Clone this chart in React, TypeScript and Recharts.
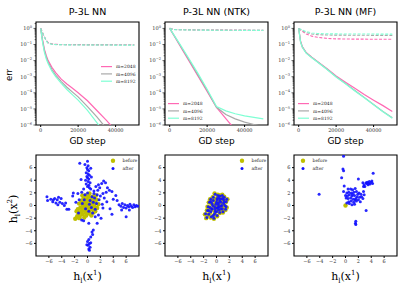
import React from "react";
import {
  LineChart,
  Line,
  ScatterChart,
  Scatter,
  XAxis,
  YAxis,
  ReferenceArea,
  Legend,
} from "recharts";

// hidden widths m and their colours
const widths = ["2048", "4096", "8192"];
const lineColors = ["#ff69b4", "#a9a9a9", "#7fffd4"];

// P-3L NN
const nnSteps = [0, 1000, 2000, 3000, 4000, 6000, 8000, 11000, 14000, 17000, 20000, 25000, 30000, 35000, 40000, 45000, 50000];
const nnTrain2048 = [1, 0.2, 0.05, 0.02, 0.01, 3.8e-3, 1.8e-3, 7e-4, 3.5e-4, 1.9e-4, 1e-4, 3.2e-5, 8e-6, 2e-6, 4.5e-7, null, null];
const nnTrain4096 = [1, 0.16, 0.04, 0.016, 8e-3, 2.8e-3, 1.25e-3, 5e-4, 2.2e-4, 1.1e-4, 5.6e-5, 1.4e-5, 3.2e-6, 6.3e-7, null, null, null];
const nnTrain8192 = [1, 0.14, 0.032, 0.0126, 6.3e-3, 2.2e-3, 1e-3, 3.8e-4, 1.6e-4, 7.5e-5, 3.5e-5, 8e-6, 1.4e-6, 2.5e-7, null, null, null];
const nnTest2048 = [1, 0.55, 0.3, 0.18, 0.13, 0.108, 0.102, 0.1, 0.099, 0.098, 0.098, 0.097, 0.097, 0.096, 0.096, 0.096, 0.096];
const nnTest4096 = [1, 0.54, 0.29, 0.17, 0.125, 0.105, 0.1, 0.098, 0.097, 0.096, 0.096, 0.095, 0.095, 0.095, 0.094, 0.094, 0.094];
const nnTest8192 = [1, 0.53, 0.28, 0.165, 0.12, 0.103, 0.098, 0.096, 0.095, 0.094, 0.094, 0.093, 0.093, 0.093, 0.092, 0.092, 0.092];

// P-3L NN (NTK)
const ntkSteps = [0, 2500, 5000, 10000, 15000, 20000, 25000, 30000, 35000, 40000, 45000, 50000];
const ntkTrain2048 = [1, 0.33, 0.105, 0.011, 1.15e-3, 1.2e-4, 1.26e-5, 2.5e-6, 5e-7, null, null, null];
const ntkTrain4096 = [1, 0.34, 0.115, 0.0126, 1.35e-3, 1.38e-4, 1.26e-5, 4.5e-6, 2.4e-6, 1.5e-6, 1.07e-6, 8e-7];
const ntkTrain8192 = [1, 0.355, 0.126, 0.015, 1.66e-3, 1.66e-4, 1.4e-5, 7.6e-6, 5e-6, 3.7e-6, 2.95e-6, 2.4e-6];
const ntkTest2048 = [1, 0.86, 0.84, 0.82, 0.81, 0.8, 0.79, 0.79, 0.78, 0.78, 0.77, 0.77];
const ntkTest4096 = [1, 0.85, 0.83, 0.81, 0.8, 0.79, 0.78, 0.78, 0.77, 0.77, 0.76, 0.76];
const ntkTest8192 = [1, 0.84, 0.82, 0.8, 0.79, 0.78, 0.77, 0.77, 0.76, 0.76, 0.75, 0.75];

// P-3L NN (MF)
const mfSteps = [0, 1000, 2000, 4000, 7000, 10000, 15000, 20000, 25000, 30000, 35000, 40000, 45000, 50000];
const mfTrain2048 = [1, 0.16, 0.071, 0.032, 0.016, 8.9e-3, 3.2e-3, 1.1e-3, 4.5e-4, 1.9e-4, 7.9e-5, 3.5e-5, 1.6e-5, 7e-6];
const mfTrain4096 = [1, 0.15, 0.068, 0.03, 0.0155, 8.5e-3, 3e-3, 1e-3, 3.8e-4, 1.4e-4, 5.2e-5, 1.9e-5, 7e-6, 2.8e-6];
const mfTrain8192 = [1, 0.14, 0.065, 0.029, 0.015, 8.3e-3, 2.9e-3, 9.5e-4, 3.6e-4, 1.3e-4, 4.9e-5, 1.8e-5, 6.6e-6, 2.6e-6];
const mfTest2048 = [1, 0.8, 0.65, 0.45, 0.33, 0.28, 0.24, 0.225, 0.22, 0.215, 0.215, 0.21, 0.21, 0.21];
const mfTest4096 = [1, 0.85, 0.72, 0.55, 0.45, 0.41, 0.39, 0.38, 0.38, 0.375, 0.375, 0.37, 0.37, 0.37];
const mfTest8192 = [1, 0.9, 0.8, 0.63, 0.52, 0.48, 0.46, 0.455, 0.45, 0.45, 0.445, 0.445, 0.44, 0.44];

const stepTicks = [0, 20000, 40000];
const logMajor = [1e-6, 1e-5, 1e-4, 1e-3, 1e-2, 1e-1, 1];
const hTicks = [-6, -4, -2, 0, 2, 4, 6];

// feature scatter (h_l(x^1), h_l(x^2)) before / after training
const nnBefore = [
  [-1.9, -2.1], [-1.6, -1.7], [-1.4, -1.3], [-1.2, -1.8], [-1.0, -1.0], [-0.9, -0.4], [-0.8, -1.4], [-0.7, 0.2],
  [-0.6, -0.8], [-0.5, -0.2], [-0.4, 0.6], [-0.3, -1.1], [-0.2, 0.1], [-0.1, -0.5], [0.0, 0.4], [0.1, -0.2],
  [0.2, 0.8], [0.3, -0.7], [0.4, 0.3], [0.5, -0.1], [0.6, 1.0], [0.7, 0.2], [0.8, -0.6], [0.9, 0.6],
  [1.0, 1.3], [1.1, -0.2], [1.2, 0.4], [1.4, 0.9], [1.5, -0.4], [1.7, 0.2], [-1.5, -0.6], [-1.3, 0.3],
  [-1.1, -0.3], [-0.9, 0.8], [-0.6, 1.2], [-0.3, 1.6], [-0.1, 1.0], [0.2, 1.4], [0.4, -1.3], [0.6, -1.6],
  [-0.2, -1.6], [-0.5, -1.9], [0.0, -1.2], [0.3, 1.9], [-0.8, 1.6], [1.3, 1.6], [0.9, -1.1], [-1.7, -0.9],
  [-1.0, 0.4], [-0.4, -0.6], [0.1, 0.6], [0.5, 0.5], [0.8, 1.4], [-0.7, -0.1], [1.2, -0.9], [-1.3, -2.0],
  [0.0, -0.8], [0.7, -0.3], [-0.2, 0.4], [0.3, 0.1],
];
const nnAfter = [
  [0.0, 7.0], [-1.2, 6.7], [0.1, 6.3], [-0.1, 6.0], [0.0, 5.7], [0.2, 5.5], [-0.2, 5.2], [0.1, 5.0],
  [0.3, 4.8], [-0.1, 4.6], [0.0, 4.4], [0.2, 4.2], [-0.3, 4.0], [0.1, 3.8], [0.4, 3.6], [-0.2, 3.4],
  [0.2, 3.2], [0.0, 3.0], [-1.0, 4.1], [0.6, 4.5], [0.5, 5.9], [-0.4, 6.5], [0.3, 2.8], [-0.6, 2.6],
  [0.9, -3.9], [0.7, -4.2], [0.8, -4.6], [0.5, -5.0], [0.2, -5.4], [0.0, -5.7], [0.3, -6.0], [0.1, -6.3],
  [0.4, -6.6], [0.2, -6.9], [0.3, -7.1], [0.5, -5.9], [-0.1, -6.2], [-0.6, -2.4], [0.2, -2.8],
  [-6.3, 1.4], [-6.2, 0.8], [-5.7, 1.0], [-5.4, 0.6], [-5.1, 1.1], [-4.9, 0.4], [-4.7, 0.9], [-4.5, 1.3],
  [-4.3, 0.5], [-4.1, 1.1], [-3.9, 0.3], [-3.6, 0.0], [-3.4, 0.4], [-3.2, -0.6], [-2.9, -0.6], [-4.6, 0.1],
  [-5.3, 0.9], [-2.2, 2.0], [-1.5, 1.9], [-2.3, 1.5],
  [4.6, 0.8], [4.9, 0.1], [5.2, -0.1], [5.4, 0.3], [5.6, -0.3], [5.8, 0.1], [6.0, -0.4], [6.2, 0.0],
  [6.4, -0.2], [6.6, 0.2], [6.8, -0.1], [7.0, -0.3], [7.2, 0.1], [7.4, -0.2], [7.6, 0.0], [7.8, -0.1],
  [6.0, -1.8], [5.3, -0.7], [6.5, -0.7], [4.4, 1.6], [3.8, -1.4],
  [0.5, 2.6], [1.0, 2.3], [1.3, 3.0], [1.6, 2.4], [1.9, 2.8], [2.2, 3.5], [2.5, 3.9], [2.8, 3.6],
  [3.1, 2.8], [3.4, 2.4], [3.8, 2.2], [2.4, 1.9], [2.0, 1.5], [1.5, 1.7], [1.1, 1.2], [0.7, 1.4],
  [0.4, 0.8], [0.9, 0.5], [1.4, 0.3], [1.8, 0.9], [2.6, 1.2], [3.0, 0.6], [-0.4, 1.7], [-0.9, 2.1],
  [-1.3, 0.9], [-0.8, 0.3], [-0.3, -0.5], [0.2, -0.9], [0.8, -1.2], [1.2, -0.6], [1.7, -1.5], [2.1, -2.0],
  [1.5, -2.8], [-0.9, -2.3], [-1.4, -1.2], [2.4, -0.4], [0.0, 2.0], [1.0, 1.9], [0.3, 0.2], [-0.5, 0.9],
  [2.9, 2.1], [1.7, 3.3], [0.6, -0.3], [-1.8, 0.5], [3.5, -0.5], [2.3, 0.2], [4.0, 1.0], [1.2, -1.8],
];
const ntkBefore = [
  [-1.6, -2.0], [-1.8, -1.4], [-1.5, -0.8], [-1.3, -1.5], [-1.1, -0.3], [-1.0, -1.1], [-0.8, 0.3], [-0.7, -0.6],
  [-0.6, -1.7], [-0.5, 0.9], [-0.4, -0.2], [-0.3, 1.9], [-0.2, -1.0], [-0.1, 0.5], [0.0, -0.4], [0.1, 1.2],
  [0.2, 0.0], [0.3, -0.8], [0.4, 0.7], [0.5, 1.6], [0.6, -0.2], [0.7, 0.4], [0.8, 1.1], [0.9, -0.6],
  [1.0, 0.2], [1.1, 0.9], [1.2, 1.4], [1.3, -0.1], [1.5, 0.6], [1.7, 1.0], [-1.2, 0.5], [-0.9, -1.9],
  [-0.3, -1.4], [0.0, 0.9], [0.2, 1.7], [0.5, -1.2], [0.9, 1.7], [1.4, -0.7], [-0.6, 1.3], [-1.4, -0.2],
  [0.3, 0.3], [-0.2, 0.2], [0.6, 0.9], [-0.8, -0.7], [1.0, -1.1], [-0.4, -2.1], [0.1, -1.7], [1.6, -0.3],
  [-1.0, 1.0], [0.4, -0.3],
];
const ntkAfter = [
  [-1.5, -1.9], [-1.7, -1.3], [-1.4, -0.8], [-1.2, -1.4], [-1.0, -0.3], [-0.9, -1.0], [-0.7, 0.3], [-0.7, -0.5],
  [-0.5, -1.6], [-0.5, 0.8], [-0.3, -0.2], [-0.2, 1.8], [-0.2, -0.9], [0.0, 0.5], [0.1, -0.4], [0.1, 1.1],
  [0.3, 0.1], [0.3, -0.7], [0.5, 0.7], [0.5, 1.5], [0.7, -0.1], [0.7, 0.5], [0.9, 1.1], [0.9, -0.5],
  [1.1, 0.3], [1.1, 0.9], [1.2, 1.3], [1.3, 0.0], [1.5, 0.6], [1.6, 1.0], [-1.1, 0.5], [-0.8, -1.8],
  [-0.3, -1.3], [0.1, 0.9], [0.2, 1.6], [0.5, -1.1], [0.9, 1.6], [1.4, -0.6], [-0.5, 1.3], [-1.3, -0.2],
  [0.3, 0.4], [-0.1, 0.2], [0.6, 1.0], [-0.7, -0.6], [1.0, -1.0], [-0.4, -2.0], [0.1, -1.6], [1.5, -0.2],
  [-0.9, 1.0], [0.4, -0.2], [-0.6, 0.0], [0.0, -1.0], [0.8, 0.0], [-1.2, -0.8], [0.4, 1.2], [-0.2, -0.5],
  [1.2, 0.6], [-0.9, 0.6], [0.2, -0.3], [0.6, -0.6],
];
const mfBefore = [[0, 0]];
const mfAfter = [
  [-0.3, 7.8], [-0.4, 5.8], [-0.3, 5.5], [-0.6, 4.4], [2.0, 4.2], [4.3, 5.1], [-4.1, 1.8], [-0.2, 3.1],
  [-0.3, 2.2], [3.2, -0.8], [1.6, -2.5], [1.55, -2.8], [1.6, -3.0],
  [2.7, 3.6], [2.9, 3.3], [3.0, 3.0], [3.2, 3.6], [3.4, 3.7], [3.6, 3.5], [3.8, 3.4], [4.0, 3.7],
  [4.1, 3.9], [3.3, 3.5], [3.7, 3.8], [4.2, 3.5], [3.5, 3.3], [2.8, 3.0],
  [0.4, 2.6], [0.8, 2.6], [1.1, 2.5], [1.5, 2.7], [0.2, 2.0], [0.5, 2.1], [0.9, 2.0], [1.3, 2.1],
  [1.7, 2.2], [2.1, 2.0], [2.4, 1.8], [0.0, 1.6], [0.3, 1.5], [0.6, 1.7], [1.0, 1.5], [1.4, 1.6],
  [1.8, 1.4], [2.2, 1.3], [0.4, 1.1], [0.8, 1.2], [1.2, 1.0], [1.6, 1.1], [2.0, 0.9], [2.5, 1.4],
  [0.5, 0.6], [0.9, 0.7], [1.3, 0.5], [1.7, 0.7], [2.3, 0.6], [0.6, 0.3], [0.2, 0.4], [1.0, 0.1],
  [1.5, 0.9], [2.7, 1.1], [1.9, 1.8], [0.1, 1.2], [1.1, 1.8], [2.8, 2.2], [1.4, 0.2], [2.9, 1.7],
];

const beforeColor = "#bfbf00";
const afterColor = "#1010ff";

// layout
const colLeft = [36, 165, 294];
const plotW = 103;
const topPlot = { top: 22, h: 103 };
const botPlot = { top: 155, h: 101 };
const yAxisW = 30;
const tickFont = '"DejaVu Serif", serif';

const logTicks: number[] = [];
logMajor.forEach((m) => {
  logTicks.push(m);
  if (m < 1) [2, 3, 4, 5, 6, 7, 8, 9].forEach((k) => logTicks.push(m * k));
});
logTicks.push(2);

function buildRows(steps: number[], train: any[][], test: any[][]) {
  return steps.map((s, i) => {
    const r: any = { step: s };
    widths.forEach((w, k) => {
      r["s" + w] = train[k][i];
      r["d" + w] = test[k][i];
    });
    return r;
  });
}

function LogTick(props: any) {
  const { x, y, payload } = props;
  const lg = Math.log10(payload.value);
  const e = Math.round(lg);
  const major = Math.abs(lg - e) < 1e-6;
  return (
    <g>
      <line x1={x} x2={x - (major ? 2.5 : 1.4)} y1={y} y2={y} stroke="#000" strokeWidth={0.6} />
      {major && (
        <text x={x - 4} y={y + 1.8} textAnchor="end" fontSize={5} fill="#333" fontFamily={tickFont}>
          10
          <tspan dy={-2.2} fontSize={3.6}>
            {e === 0 ? "0" : "\u2212" + -e}
          </tspan>
        </text>
      )}
    </g>
  );
}

const minusFmt = (v: number) => (v < 0 ? "\u2212" + -v : String(v));

function LineLegend() {
  return (
    <svg width={40} height={22}>
      {widths.map((w, k) => (
        <g key={w}>
          <line x1={0} x2={11} y1={3.6 + k * 7.3} y2={3.6 + k * 7.3} stroke={lineColors[k]} strokeWidth={1.2} />
          <text x={15} y={3.6 + k * 7.3 + 1.6} fontSize={4.5} fill="#222" fontFamily={tickFont}>
            {"m=" + w}
          </text>
        </g>
      ))}
    </svg>
  );
}

function DotLegend() {
  return (
    <svg width={30} height={16}>
      <circle cx={3} cy={3.8} r={2.2} fill={beforeColor} />
      <text x={12.5} y={5.4} fontSize={4.5} fill="#222" fontFamily={tickFont}>before</text>
      <circle cx={3} cy={11.4} r={1.5} fill={afterColor} />
      <text x={12.5} y={13} fontSize={4.5} fill="#222" fontFamily={tickFont}>after</text>
    </svg>
  );
}

function TopPanel(props: { col: number; title: string; rows: any[]; legendAt: [number, number]; ylabel?: boolean }) {
  const { col, title, rows, legendAt, ylabel } = props;
  const left = colLeft[col];
  return (
    <>
      <div style={{ position: "absolute", left: left - yAxisW, top: topPlot.top - 4 }}>
        <LineChart width={yAxisW + plotW + 4} height={4 + topPlot.h + 16} data={rows} margin={{ top: 4, right: 4, bottom: 0, left: 0 }}>
          <XAxis
            dataKey="step"
            type="number"
            domain={[-2500, 52500]}
            ticks={stepTicks}
            interval={0}
            axisLine={false}
            stroke="#000"
            tickSize={2}
            tickMargin={1}
            height={16}
            tick={{ fontSize: 5, fill: "#333", fontFamily: tickFont }}
            allowDataOverflow
          />
          <YAxis
            type="number"
            scale="log"
            domain={[1e-6, 2.5]}
            ticks={logTicks}
            interval={0}
            width={yAxisW}
            axisLine={false}
            tickLine={false}
            tickSize={0}
            tickMargin={0}
            tick={<LogTick />}
            allowDataOverflow
          />
          <ReferenceArea x1={-2500} x2={52500} y1={1e-6} y2={2.5} fill="none" stroke="#000" strokeWidth={1.1} />
          {widths.map((w, k) => (
            <Line key={"d" + w} dataKey={"d" + w} stroke={lineColors[k]} strokeWidth={1.1} strokeDasharray="3 1.6" dot={false} isAnimationActive={false} />
          ))}
          {widths.map((w, k) => (
            <Line key={"s" + w} dataKey={"s" + w} stroke={lineColors[k]} strokeWidth={1.2} dot={false} isAnimationActive={false} />
          ))}
          <Legend
            layout="vertical"
            align="center"
            verticalAlign="middle"
            content={() => <LineLegend />}
            wrapperStyle={{ left: legendAt[0], top: legendAt[1], width: 40, height: 22, lineHeight: 0 }}
          />
        </LineChart>
      </div>
      <div style={{ position: "absolute", left, width: plotW, top: 6, textAlign: "center", fontFamily: '"DejaVu Sans"', fontSize: 9.5, lineHeight: "12px" }}>
        {title}
      </div>
      <div style={{ position: "absolute", left, width: plotW, top: 135, textAlign: "center", fontFamily: '"DejaVu Sans"', fontSize: 9, lineHeight: "12px" }}>
        GD step
      </div>
      {ylabel && (
        <div style={{ position: "absolute", left: -6, width: 30, top: 69, textAlign: "center", fontFamily: '"DejaVu Sans"', fontSize: 8.5, lineHeight: "12px", transform: "rotate(-90deg)" }}>
          err
        </div>
      )}
    </>
  );
}

const toPts = (a: number[][]) => a.map(([x, y]) => ({ x, y }));
const dot = (r: number, color: string, op = 1) => (p: any) => <circle cx={p.cx} cy={p.cy} r={r} fill={color} fillOpacity={op} />;

function ScatterPanel(props: { col: number; before: number[][]; after: number[][]; legendAt: [number, number]; ylabel?: boolean }) {
  const { col, before, after, legendAt, ylabel } = props;
  const left = colLeft[col];
  return (
    <>
      <div style={{ position: "absolute", left: left - yAxisW, top: botPlot.top - 4 }}>
        <ScatterChart width={yAxisW + plotW + 4} height={4 + botPlot.h + 16} margin={{ top: 4, right: 4, bottom: 0, left: 0 }}>
          <XAxis
            dataKey="x"
            type="number"
            domain={[-8, 8]}
            ticks={hTicks}
            interval={0}
            axisLine={false}
            stroke="#000"
            tickSize={2}
            tickMargin={1}
            height={16}
            tickFormatter={minusFmt}
            tick={{ fontSize: 5, fill: "#333", fontFamily: tickFont }}
            allowDataOverflow
          />
          <YAxis
            dataKey="y"
            type="number"
            domain={[-8, 8]}
            ticks={hTicks}
            interval={0}
            width={yAxisW}
            axisLine={false}
            stroke="#000"
            tickSize={2}
            tickMargin={1.5}
            tickFormatter={minusFmt}
            tick={{ fontSize: 5, fill: "#333", fontFamily: tickFont }}
            allowDataOverflow
          />
          <ReferenceArea x1={-8} x2={8} y1={-8} y2={8} fill="none" stroke="#000" strokeWidth={1.1} />
          <Scatter name="before" data={toPts(before)} fill={beforeColor} shape={dot(2.2, beforeColor)} isAnimationActive={false} />
          <Scatter name="after" data={toPts(after)} fill={afterColor} shape={dot(1.5, afterColor, 0.9)} isAnimationActive={false} />
          <Legend
            layout="vertical"
            align="center"
            verticalAlign="middle"
            content={() => <DotLegend />}
            wrapperStyle={{ left: legendAt[0], top: legendAt[1], width: 30, height: 16, lineHeight: 0 }}
          />
        </ScatterChart>
      </div>
      <div style={{ position: "absolute", left, width: plotW, top: 266, textAlign: "center", fontFamily: '"DejaVu Serif", serif', fontSize: 11, lineHeight: "14px" }}>
        h<sub style={{ fontSize: 7 }}>l</sub>(x<sup style={{ fontSize: 7 }}>1</sup>)
      </div>
      {ylabel && (
        <div style={{ position: "absolute", left: -16, width: 60, top: 198, textAlign: "center", fontFamily: '"DejaVu Serif", serif', fontSize: 11, lineHeight: "14px", transform: "rotate(-90deg)" }}>
          h<sub style={{ fontSize: 7 }}>l</sub>(x<sup style={{ fontSize: 7 }}>2</sup>)
        </div>
      )}
    </>
  );
}

const nnRows = buildRows(nnSteps, [nnTrain2048, nnTrain4096, nnTrain8192], [nnTest2048, nnTest4096, nnTest8192]);
const ntkRows = buildRows(ntkSteps, [ntkTrain2048, ntkTrain4096, ntkTrain8192], [ntkTest2048, ntkTest4096, ntkTest8192]);
const mfRows = buildRows(mfSteps, [mfTrain2048, mfTrain4096, mfTrain8192], [mfTest2048, mfTest4096, mfTest8192]);

export default function App() {
  return (
    <div style={{ position: "absolute", left: 0, top: 0, width: 405, height: 288, background: "#fff" }}>
      <TopPanel col={0} title="P-3L NN" rows={nnRows} legendAt={[95, 45]} ylabel />
      <TopPanel col={1} title="P-3L NN (NTK)" rows={ntkRows} legendAt={[33, 81.6]} />
      <TopPanel col={2} title="P-3L NN (MF)" rows={mfRows} legendAt={[33.7, 81.6]} />
      <ScatterPanel col={0} before={nnBefore} after={nnAfter} legendAt={[103.7, 5.9]} ylabel />
      <ScatterPanel col={1} before={ntkBefore} after={ntkAfter} legendAt={[103.7, 5.9]} />
      <ScatterPanel col={2} before={mfBefore} after={mfAfter} legendAt={[35.7, 5.9]} />
    </div>
  );
}
